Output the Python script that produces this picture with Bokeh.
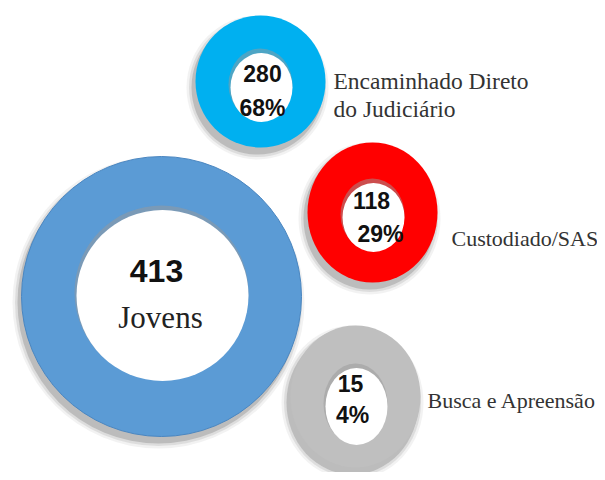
from bokeh.plotting import figure
from bokeh.models import Range1d
from bokeh.core.properties import value
from bokeh.embed import file_html
from bokeh.resources import INLINE

# ---- data ----
total = 413
total_label = "Jovens"
categories = ["Encaminhado Direto|do Judiciário", "Custodiado/SAS", "Busca e Apreensão"]
counts = [280, 118, 15]
percents = [68, 29, 4]
colors = ["#00B0F0", "#FF0000", "#BFBFBF"]
total_color = "#5B9BD5"

# ---- layout (pixel coordinates of the picture) ----
cx = [260, 372, 355]
cy = [81, 212, 396]
rx = [65, 65, 65]
ry = [66, 70, 71]
hx = [32, 32, 32]
hy = [36, 36, 40]
hcy = [84, 214, 403]
num_pos = [(262, 73), (371, 200), (350, 383)]
pct_pos = [(262, 107), (380, 233), (352, 414)]
lab_pos = [(333, 80), (451, 238), (427, 400)]
lab_size = ["23.5px", "22px", "22px"]
big = dict(x=161, y=296, r=140, hr=87, hy=292)

W, H = 597, 472
p = figure(width=W, height=H, output_backend="svg", toolbar_location=None,
           x_range=Range1d(0, W), y_range=Range1d(H, 0),
           min_border=0, outline_line_color=None)
p.axis.visible = False
p.grid.visible = False
p.background_fill_color = "white"
p.border_fill_color = "white"

def shadow(x, y, w, h):
    for k, a in [(12, 0.08), (7, 0.13), (2, 0.24)]:
        p.ellipse(x=[x - 3], y=[y + 6], width=[w + k], height=[h + k],
                  fill_color="#555555", fill_alpha=a, line_color=None)

def hole(x, y, w, h):
    p.ellipse(x=[x], y=[y], width=[w], height=[h], fill_color="#9a9a9a",
              fill_alpha=0.5, line_color=None)
    p.ellipse(x=[x + 1], y=[y + 3], width=[w - 2], height=[h - 3],
              fill_color="white", line_color=None)

# big total donut
shadow(big["x"], big["y"], 2 * big["r"], 2 * big["r"])
p.ellipse(x=[big["x"]], y=[big["y"]], width=[2 * big["r"]], height=[2 * big["r"]],
          fill_color=total_color, line_color="#4a86c0", line_width=1)
hole(big["x"], big["hy"], 2 * big["hr"], 2 * big["hr"])
p.text(x=[156], y=[270], text=[str(total)], text_font=value("Liberation Sans"),
       text_font_style="bold", text_font_size="32px", text_color="#111111",
       text_align="center", text_baseline="middle")
p.text(x=[160], y=[317], text=[total_label], text_font=value("Liberation Serif"),
       text_font_size="31px", text_color="#222222",
       text_align="center", text_baseline="middle")

# category donuts
for i in range(len(counts)):
    shadow(cx[i], cy[i], 2 * rx[i], 2 * ry[i])
    p.ellipse(x=[cx[i]], y=[cy[i]], width=[2 * rx[i]], height=[2 * ry[i]],
              fill_color=colors[i], line_color=None)
    hole(cx[i], hcy[i], 2 * hx[i], 2 * hy[i])
    p.text(x=[num_pos[i][0]], y=[num_pos[i][1]], text=[str(counts[i])],
           text_font=value("Liberation Sans"), text_font_style="bold",
           text_font_size="23px", text_color="#111111",
           text_align="center", text_baseline="middle")
    p.text(x=[pct_pos[i][0]], y=[pct_pos[i][1]], text=[f"{percents[i]}%"],
           text_font=value("Liberation Sans"), text_font_style="bold",
           text_font_size="23px", text_color="#111111",
           text_align="center", text_baseline="middle")
    lines = categories[i].split("|")
    for j, line in enumerate(lines):
        p.text(x=[lab_pos[i][0]], y=[lab_pos[i][1] + 28 * j], text=[line],
               text_font=value("Liberation Serif"), text_font_size=lab_size[i],
               text_color="#333333", text_align="left", text_baseline="middle")

open("out.html", "w").write(file_html(p, INLINE))
